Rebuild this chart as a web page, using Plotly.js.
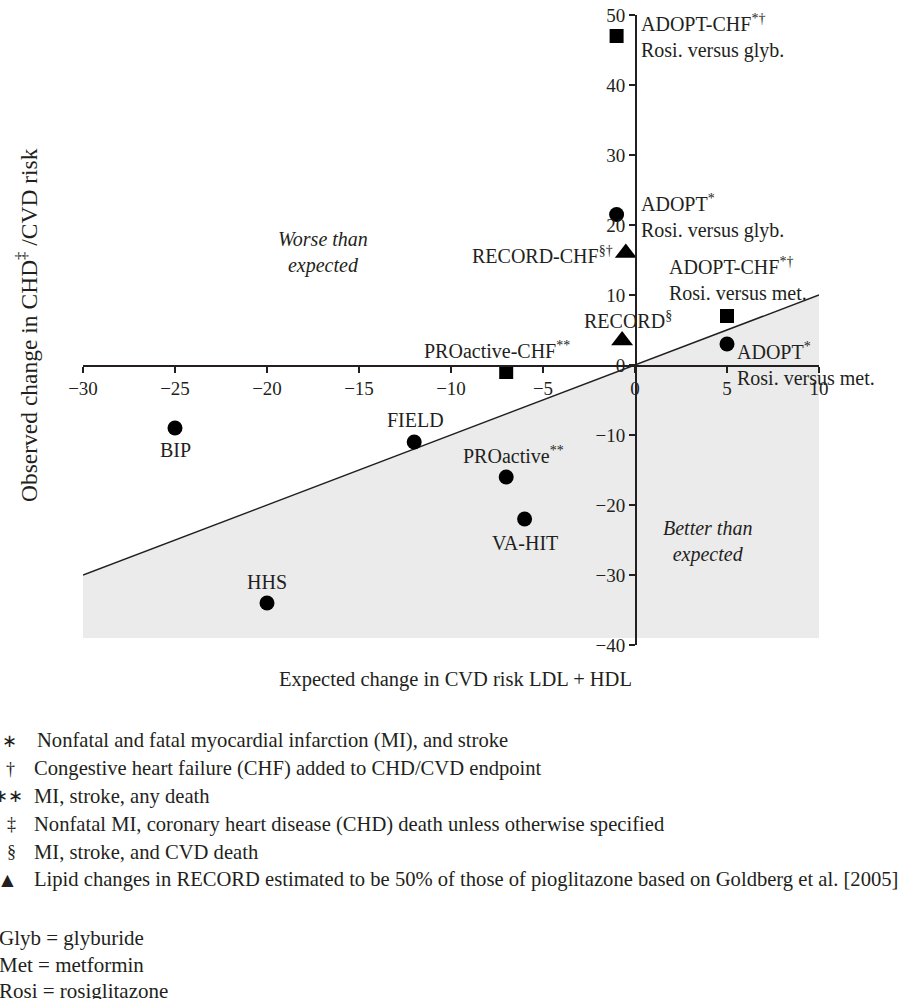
<!DOCTYPE html>
<html>
<head>
<meta charset="utf-8">
<script src="https://cdn.plot.ly/plotly-3.0.1.min.js"></script>
<style>html,body{margin:0;padding:0;background:#fff;}#chart{width:912px;height:999px;}</style>
</head>
<body>
<div id="chart"></div>
<script>
// ---------- data ----------
const circleX = [-1, 5, -25, -12, -7, -6, -20];
const circleY = [21.5, 3, -9, -11, -16, -22, -34];
const circleLabels = ['ADOPT<sup>*</sup><br>Rosi. versus glyb.', 'ADOPT<sup>*</sup><br>Rosi. versus met.', 'BIP', 'FIELD', 'PROactive<sup>**</sup>', 'VA-HIT', 'HHS'];

const squareX = [-1, 5, -7];
const squareY = [47, 7, -1];
const squareLabels = ['ADOPT-CHF<sup>*†</sup><br>Rosi. versus glyb.', 'ADOPT-CHF<sup>*†</sup><br>Rosi. versus met.', 'PROactive-CHF<sup>**</sup>'];

const triangleX = [-0.5, -0.7];
const triangleY = [16, 3.5];
const triangleLabels = ['RECORD-CHF<sup>§†</sup>', 'RECORD<sup>§</sup>'];

const refLineX = [-30, 10];
const refLineY = [-30, 10];
const shadeFloor = -39;

const xTicks = [-30, -25, -20, -15, -10, -5, 0, 5, 10];
const yTicks = [-40, -30, -20, -10, 0, 10, 20, 30, 40, 50];

const footSymbols = ['∗', '†', '∗∗', '‡', '§', '▲'];
const footTexts = [
  'Nonfatal and fatal myocardial infarction (MI), and stroke',
  'Congestive heart failure (CHF) added to CHD/CVD endpoint',
  'MI, stroke, any death',
  'Nonfatal MI, coronary heart disease (CHD) death unless otherwise specified',
  'MI, stroke, and CVD death',
  'Lipid changes in RECORD estimated to be 50% of those of pioglitazone based on Goldberg et al. [2005]'
];
const abbrevTexts = ['Glyb = glyburide', 'Met = metformin', 'Rosi = rosiglitazone'];

// ---------- styling / layout ----------
const FONT = 'Liberation Serif, Times New Roman, serif';
const INK = '#231f20';
const W = 912, H = 999;
const M = {l: 83, r: 93, t: 15, b: 354};
const PW = W - M.l - M.r, PH = H - M.t - M.b;
const px2x = px => (px - M.l) / PW;
const py2y = py => 1 - (py - M.t) / PH;

// label offsets (pixels) : [xanchor, xshift, yshift]
const circleOff = [['left', 22, -2], ['left', 8, -20], ['center', 0, -22], ['center', 1, 22], ['center', 7, 22], ['center', 0, -24], ['center', 0, 21]];
const squareOff = [['left', 22, 0], ['left', -60, 37], ['center', -9, 22]];
const triangleOff = [['right', -11, -2], ['center', 6, 21]];

const traces = [
  {x: [refLineX[0], refLineX[1], refLineX[1], refLineX[0]], y: [refLineY[0], refLineY[1], shadeFloor, shadeFloor],
   type: 'scatter', mode: 'none', fill: 'toself', fillcolor: '#ebebeb', hoverinfo: 'skip', showlegend: false},
  {x: refLineX, y: refLineY, type: 'scatter', mode: 'lines', line: {color: INK, width: 1.5}, showlegend: false},
  {x: circleX, y: circleY, type: 'scatter', mode: 'markers', marker: {symbol: 'circle', size: 15, color: '#000'}, showlegend: false, cliponaxis: false},
  {x: squareX, y: squareY, type: 'scatter', mode: 'markers', marker: {symbol: 'square', size: 14, color: '#000'}, showlegend: false, cliponaxis: false},
  {x: triangleX, y: triangleY, type: 'scatter', mode: 'markers', marker: {symbol: 'triangle-up', size: 19, color: '#000'}, showlegend: false, cliponaxis: false}
];

const annotations = [];
function addLabels(xs, ys, labels, offs) {
  for (let i = 0; i < xs.length; i++) {
    annotations.push({x: xs[i], y: ys[i], xref: 'x', yref: 'y', text: labels[i], showarrow: false,
      xanchor: offs[i][0], yanchor: 'middle', xshift: offs[i][1], yshift: offs[i][2], align: 'left',
      font: {family: FONT, size: 20, color: INK}});
  }
}
addLabels(circleX, circleY, circleLabels, circleOff);
addLabels(squareX, squareY, squareLabels, squareOff);
addLabels(triangleX, triangleY, triangleLabels, triangleOff);

// region labels
annotations.push({xref: 'paper', yref: 'paper', x: px2x(323), y: py2y(252), text: '<i>Worse than<br>expected</i>', showarrow: false,
  xanchor: 'center', yanchor: 'middle', align: 'center', font: {family: FONT, size: 20, color: INK}});
annotations.push({xref: 'paper', yref: 'paper', x: px2x(707), y: py2y(541), text: '<i>Better than<br>expected</i>', showarrow: false,
  xanchor: 'center', yanchor: 'middle', align: 'center', font: {family: FONT, size: 20, color: INK}});

// axis titles
annotations.push({xref: 'paper', yref: 'paper', x: px2x(455), y: py2y(679), text: 'Expected change in CVD risk LDL + HDL', showarrow: false,
  xanchor: 'center', yanchor: 'middle', font: {family: FONT, size: 20.5, color: INK}});
annotations.push({xref: 'paper', yref: 'paper', x: px2x(27), y: py2y(325), text: 'Observed change in CHD<sup>‡</sup> /CVD risk', showarrow: false,
  textangle: -90, xanchor: 'center', yanchor: 'middle', font: {family: FONT, size: 23.5, color: INK}});

// footnotes
const footTop = 741, footStep = 27.7;
const symX = [9, 10, 8, 11, 11, 7];
const symSize = [18, 18, 18, 18, 18, 21];
for (let i = 0; i < footTexts.length; i++) {
  const yy = py2y(footTop + i * footStep);
  annotations.push({xref: 'paper', yref: 'paper', x: px2x(symX[i]), y: yy, text: footSymbols[i], showarrow: false,
    xanchor: 'center', yanchor: 'middle', font: {family: FONT, size: symSize[i], color: INK}});
  annotations.push({xref: 'paper', yref: 'paper', x: px2x(i === 0 ? 35 : 32), y: yy, text: footTexts[i], showarrow: false,
    xanchor: 'left', yanchor: 'middle', font: {family: FONT, size: 20.6, color: INK}});
}
const abbrevTop = 938, abbrevStep = 26.5;
for (let i = 0; i < abbrevTexts.length; i++) {
  annotations.push({xref: 'paper', yref: 'paper', x: px2x(-3), y: py2y(abbrevTop + i * abbrevStep), text: abbrevTexts[i], showarrow: false,
    xanchor: 'left', yanchor: 'middle', font: {family: FONT, size: 21, color: INK}});
}

const axisCommon = {showgrid: false, zeroline: false, showline: true, linecolor: INK, linewidth: 1.5,
  ticks: 'outside', ticklen: 6, tickwidth: 1.5, tickcolor: INK, anchor: 'free',
  tickfont: {family: FONT, size: 19, color: INK}, fixedrange: true};

const layout = {
  width: W, height: H,
  margin: M,
  paper_bgcolor: '#fff', plot_bgcolor: 'rgba(0,0,0,0)',
  showlegend: false,
  xaxis: Object.assign({}, axisCommon, {range: [-30, 10], tickvals: xTicks, position: 40 / 90, side: 'bottom'}),
  yaxis: Object.assign({}, axisCommon, {range: [-40, 50], tickvals: yTicks, position: 30 / 40, side: 'left'}),
  annotations: annotations
};

Plotly.newPlot('chart', traces, layout, {displayModeBar: false, staticPlot: true});
</script>
</body>
</html>
